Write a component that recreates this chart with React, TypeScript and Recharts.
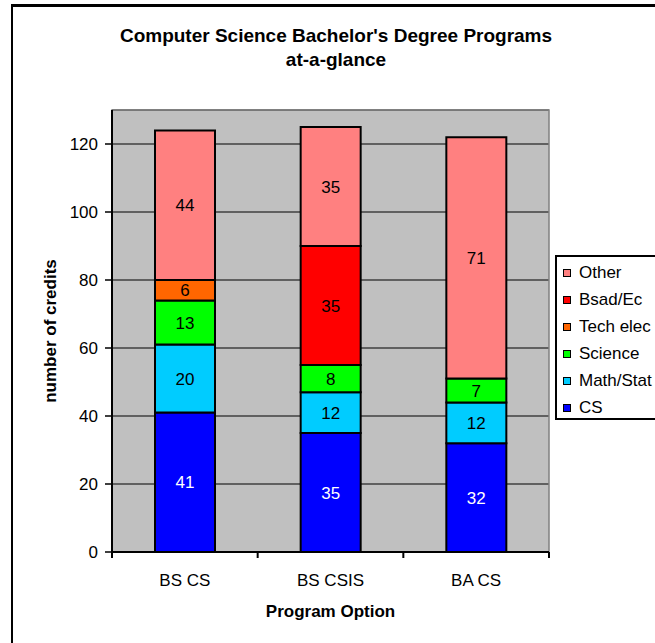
import React from "react";
import {
  BarChart,
  Bar,
  XAxis,
  YAxis,
  CartesianGrid,
  LabelList,
  ReferenceArea,
} from "recharts";

const categories = ["BS CS", "BS CSIS", "BA CS"];
const cs = [41, 35, 32];
const mathStat = [20, 12, 12];
const science = [13, 8, 7];
const techElec = [6, 0, 0];
const bsadEc = [0, 35, 0];
const other = [44, 35, 71];
const yTicks = [0, 20, 40, 60, 80, 100, 120];

const FONT = '"Liberation Sans", Arial, sans-serif';
const W = 655;
const H = 643;
const MARGIN = { top: 110, right: 106, bottom: 51, left: 0 };
const Y_AXIS_W = 112;
const BAND = (W - MARGIN.left - Y_AXIS_W - MARGIN.right) / categories.length;

// bottom of the stack first
const series = [
  { key: "cs", name: "CS", color: "#0000FF", labelColor: "#FFFFFF" },
  { key: "mathStat", name: "Math/Stat", color: "#00CCFF", labelColor: "#000" },
  { key: "science", name: "Science", color: "#00FF00", labelColor: "#000" },
  { key: "techElec", name: "Tech elec", color: "#FF6600", labelColor: "#000" },
  { key: "bsadEc", name: "Bsad/Ec", color: "#FF0000", labelColor: "#000" },
  { key: "other", name: "Other", color: "#FF8080", labelColor: "#000" },
];

const data = categories.map((name, i) => ({
  name,
  cs: cs[i],
  mathStat: mathStat[i],
  science: science[i],
  techElec: techElec[i],
  bsadEc: bsadEc[i],
  other: other[i],
}));

function XTick(props: any) {
  const { x, y, payload, index } = props;
  const half = BAND / 2;
  return (
    <g>
      <line x1={x - half} x2={x - half} y1={y - 22} y2={y - 16} stroke="#000" strokeWidth={2} />
      {index === categories.length - 1 && (
        <line x1={x + half} x2={x + half} y1={y - 22} y2={y - 16} stroke="#000" strokeWidth={2} />
      )}
      <text x={x} y={y} dy="0.71em" textAnchor="middle" fill="#000" fontSize={17} fontFamily={FONT}>
        {payload.value}
      </text>
    </g>
  );
}

// legend box runs off the right edge of the frame, like the original crop
function LegendBox() {
  return (
    <div
      style={{
        position: "absolute",
        left: 555,
        top: 255,
        border: "2px solid #000",
        background: "#fff",
        padding: "2px 0 0 6px",
        height: 165,
        width: 140,
        boxSizing: "border-box",
        fontFamily: FONT,
        fontSize: 17,
        color: "#000",
      }}
    >
      {[...series].reverse().map((s) => (
        <div key={s.key} style={{ display: "flex", alignItems: "center", height: 27 }}>
          <span
            style={{
              display: "inline-block",
              width: 6,
              height: 6,
              border: "1.5px solid #000",
              background: s.color,
              marginRight: 8,
            }}
          />
          <span style={{ whiteSpace: "nowrap" }}>{s.name}</span>
        </div>
      ))}
    </div>
  );
}

export default function App() {
  return (
    <div
      style={{
        position: "absolute",
        left: 0,
        top: 0,
        width: W,
        height: H,
        overflow: "hidden",
        background: "#fff",
        fontFamily: FONT,
      }}
    >
      <div
        style={{
          position: "absolute",
          left: 11,
          top: 4,
          width: 700,
          height: 700,
          borderLeft: "2px solid #000",
          borderTop: "3px solid #000",
        }}
      />
      <div
        style={{
          position: "absolute",
          left: 0,
          top: 24,
          width: 672,
          textAlign: "center",
          fontWeight: "bold",
          fontSize: 19,
          lineHeight: "24px",
          color: "#000",
        }}
      >
        Computer Science Bachelor's Degree Programs
        <br />
        at-a-glance
      </div>
      <div
        style={{
          position: "absolute",
          left: 51,
          top: 331,
          transform: "translate(-50%, -50%) rotate(-90deg)",
          whiteSpace: "nowrap",
          fontWeight: "bold",
          fontSize: 17,
          color: "#000",
        }}
      >
        number of credits
      </div>
      <div
        style={{
          position: "absolute",
          left: 0,
          top: 602,
          width: 661,
          textAlign: "center",
          fontWeight: "bold",
          fontSize: 17,
          lineHeight: "20px",
          color: "#000",
        }}
      >
        Program Option
      </div>
      <div style={{ position: "absolute", left: 0, top: 0 }}>
        <BarChart width={W} height={H} data={data} margin={MARGIN}>
          <CartesianGrid vertical={false} stroke="#000" strokeWidth={1} fill="#C0C0C0" fillOpacity={1} />
          <ReferenceArea y1={0} y2={130} fill="none" stroke="#808080" strokeWidth={1.5} />
          <YAxis
            width={Y_AXIS_W}
            domain={[0, 130]}
            ticks={yTicks}
            interval={0}
            allowDataOverflow
            axisLine={{ stroke: "#000", strokeWidth: 2 }}
            tickLine={{ stroke: "#000", strokeWidth: 1.5 }}
            tickSize={7}
            tickMargin={7}
            tick={{ fill: "#000", fontSize: 17, fontFamily: FONT }}
          />
          <XAxis
            dataKey="name"
            height={40}
            axisLine={{ stroke: "#000", strokeWidth: 2 }}
            tickLine={false}
            tickSize={6}
            tickMargin={16}
            interval={0}
            tick={<XTick />}
          />
          {series.map((s) => (
            <Bar
              key={s.key}
              dataKey={s.key}
              name={s.name}
              stackId="a"
              fill={s.color}
              stroke="#000"
              strokeWidth={2}
              barSize={60}
              isAnimationActive={false}
            >
              <LabelList
                dataKey={s.key}
                position="center"
                fill={s.labelColor}
                fontSize={17}
                fontFamily={FONT}
                formatter={(v: any) => (v ? v : "")}
              />
            </Bar>
          ))}
        </BarChart>
      </div>
      <LegendBox />
    </div>
  );
}
